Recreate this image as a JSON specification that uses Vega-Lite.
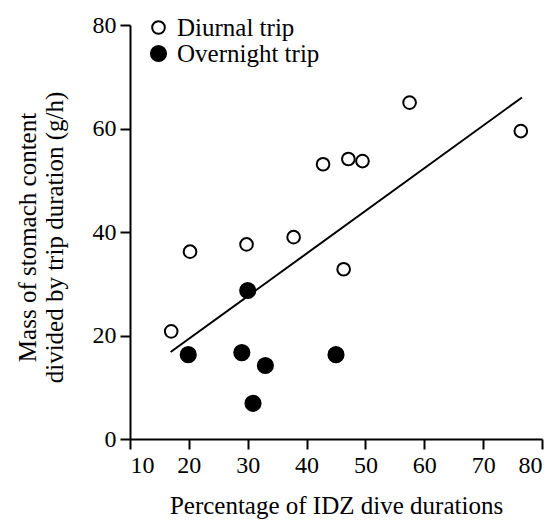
{
  "$schema": "https://vega.github.io/schema/vega-lite/v6.json",
  "width": 412,
  "height": 414,
  "autosize": {"type": "none"},
  "padding": {"left": 130, "top": 25, "right": 15, "bottom": 83},
  "background": "white",
  "config": {
    "view": {"stroke": null},
    "font": "Liberation Serif"
  },
  "datasets": {
    "points": [
      {"pct": 17.0, "mass": 20.8, "trip": "Diurnal trip"},
      {"pct": 20.2, "mass": 36.2, "trip": "Diurnal trip"},
      {"pct": 29.8, "mass": 37.6, "trip": "Diurnal trip"},
      {"pct": 37.8, "mass": 39.0, "trip": "Diurnal trip"},
      {"pct": 42.8, "mass": 53.1, "trip": "Diurnal trip"},
      {"pct": 47.1, "mass": 54.1, "trip": "Diurnal trip"},
      {"pct": 49.5, "mass": 53.7, "trip": "Diurnal trip"},
      {"pct": 57.5, "mass": 65.0, "trip": "Diurnal trip"},
      {"pct": 76.4, "mass": 59.5, "trip": "Diurnal trip"},
      {"pct": 46.3, "mass": 32.8, "trip": "Diurnal trip"},
      {"pct": 19.9, "mass": 16.3, "trip": "Overnight trip"},
      {"pct": 30.0, "mass": 28.7, "trip": "Overnight trip"},
      {"pct": 29.0, "mass": 16.7, "trip": "Overnight trip"},
      {"pct": 33.0, "mass": 14.2, "trip": "Overnight trip"},
      {"pct": 30.9, "mass": 6.9, "trip": "Overnight trip"},
      {"pct": 45.0, "mass": 16.3, "trip": "Overnight trip"}
    ],
    "fit": [
      {"pct": 16.9, "mass": 16.8},
      {"pct": 76.6, "mass": 66.0}
    ]
  },
  "encoding": {
    "x": {
      "field": "pct", "type": "quantitative",
      "scale": {"domain": [10, 80], "nice": false, "zero": false},
      "axis": {
        "values": [10, 20, 30, 40, 50, 60, 70, 80], "grid": false,
        "domainColor": "black", "domainWidth": 2, "tickColor": "black", "tickWidth": 2, "tickSize": 10,
        "labelFont": "Liberation Serif", "labelFontSize": 24, "labelColor": "black", "labelPadding": 4,
        "title": "Percentage of IDZ dive durations",
        "titleFont": "Liberation Serif", "titleFontSize": 25, "titleFontWeight": "normal", "titleColor": "black",
        "titleBaseline": "alphabetic", "titleY": 74
      }
    },
    "y": {
      "field": "mass", "type": "quantitative",
      "scale": {"domain": [0, 80], "nice": false},
      "axis": {
        "values": [0, 20, 40, 60, 80], "grid": false,
        "domainColor": "black", "domainWidth": 2, "tickColor": "black", "tickWidth": 2, "tickSize": 10,
        "labelFont": "Liberation Serif", "labelFontSize": 24, "labelColor": "black", "labelPadding": 4,
        "title": ["Mass of stomach content", "divided by trip duration (g/h)"],
        "titleFont": "Liberation Serif", "titleFontSize": 25, "titleFontWeight": "normal", "titleColor": "black",
        "titleLineHeight": 27, "titleBaseline": "alphabetic", "titleX": -95, "titleY": 212, "titleAngle": -90
      }
    }
  },
  "layer": [
    {
      "data": {"name": "points"},
      "mark": {"type": "point", "shape": "circle", "filled": true, "stroke": "black", "strokeWidth": 2, "opacity": 1},
      "encoding": {
        "fill": {
          "field": "trip", "type": "nominal",
          "scale": {"domain": ["Diurnal trip", "Overnight trip"], "range": ["white", "black"]},
          "legend": {
            "orient": "none", "legendX": 16, "legendY": -10, "title": null,
            "symbolType": "circle", "symbolStrokeColor": "black", "symbolStrokeWidth": 2,
            "labelFont": "Liberation Serif", "labelFontSize": 25, "labelColor": "black",
            "labelOffset": 6, "rowPadding": 0, "padding": 0
          }
        },
        "size": {
          "field": "trip", "type": "nominal",
          "scale": {"domain": ["Diurnal trip", "Overnight trip"], "range": [160, 230]}
        }
      }
    },
    {
      "data": {"name": "fit"},
      "mark": {"type": "line", "color": "black", "strokeWidth": 2},
      "encoding": {}
    }
  ]
}
